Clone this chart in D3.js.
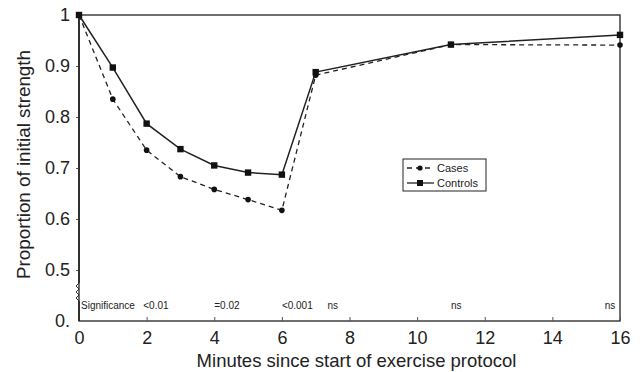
<!DOCTYPE html>
<html>
<head>
<meta charset="utf-8">
<script src="https://cdn.jsdelivr.net/npm/d3@7"></script>
<style>
  body { margin: 0; background: #fff; }
  text { font-family: "Liberation Sans", Arial, sans-serif; fill: #222; }
</style>
</head>
<body>
<svg id="chart" width="642" height="372"></svg>
<script>
// data
const minutes = [0, 1, 2, 3, 4, 5, 6, 7, 11, 16];
const cases = [1, 0.835, 0.735, 0.683, 0.658, 0.638, 0.617, 0.882, 0.942, 0.941];
const controls = [1, 0.897, 0.787, 0.737, 0.705, 0.691, 0.687, 0.888, 0.942, 0.961];
const xTicks = [0, 2, 4, 6, 8, 10, 12, 14, 16];
const yTicks = [0.5, 0.6, 0.7, 0.8, 0.9, 1];
const sigLabels = ['<0.01', '=0.02', '<0.001', 'ns', 'ns', 'ns'];
const sigAt = [1.9, 4, 6, 7.35, 11, 15.55];

const svg = d3.select('#chart');
const margin = { left: 79, right: 22, top: 15, bottom: 51 };
const width = 642 - margin.left - margin.right;
const height = 372 - margin.top - margin.bottom;

// the axis is broken below 0.5; the bottom edge stands for "0."
const x = d3.scaleLinear().domain([0, 16]).range([0, width]);
const y = d3.scaleLinear().domain([0.4, 1]).range([height, 0]);

const g = svg.append('g').attr('transform', `translate(${margin.left},${margin.top})`);

// frame
g.append('rect')
  .attr('width', width).attr('height', height)
  .attr('fill', 'none').attr('stroke', '#222').attr('stroke-width', 1.3);

// x axis
const xAxis = g.append('g').attr('transform', `translate(0,${height})`)
  .call(d3.axisBottom(x).tickValues(xTicks).tickSize(-4).tickPadding(8));
xAxis.select('.domain').remove();
xAxis.selectAll('line').attr('stroke', '#555');
xAxis.selectAll('text').style('font-size', '18px').attr('dy', '0.72em').attr('y', 10);

// y axis
const yAxis = g.append('g')
  .call(d3.axisLeft(y).tickValues(yTicks).tickSize(3).tickPadding(6)
    .tickFormat(d => d === 1 ? '1' : d3.format('.1f')(d)));
yAxis.select('.domain').remove();
yAxis.selectAll('line').attr('stroke', '#555');
yAxis.selectAll('text').style('font-size', '18px');
g.append('text')
  .attr('x', -9).attr('y', y(0.4)).attr('dy', '0.32em')
  .attr('text-anchor', 'end').style('font-size', '18px').text('0.');

// left axis line with the break
const yb1 = y(0.5) + 13, yb2 = y(0.5) + 31;
g.append('line').attr('x1', 0).attr('x2', 0).attr('y1', 0).attr('y2', yb1)
  .attr('stroke', '#222').attr('stroke-width', 1.6);
g.append('line').attr('x1', 0).attr('x2', 0).attr('y1', yb2).attr('y2', height)
  .attr('stroke', '#222').attr('stroke-width', 1.6);
const zig = d3.range(0, 7).map(i => [i % 2 === 0 ? 0 : -3, yb1 + i * (yb2 - yb1) / 6]);
g.append('path').attr('d', d3.line()(zig))
  .attr('fill', 'none').attr('stroke', '#222').attr('stroke-width', 0.9);

// axis titles
svg.append('text')
  .attr('x', margin.left + width / 2 + 7).attr('y', 367)
  .attr('text-anchor', 'middle').style('font-size', '18.5px')
  .text('Minutes since start of exercise protocol');
svg.append('text')
  .attr('transform', 'translate(30,164.5) rotate(-90)')
  .attr('text-anchor', 'middle').style('font-size', '18.5px')
  .attr('textLength', 229).attr('lengthAdjust', 'spacingAndGlyphs')
  .text('Proportion of initial strength');

// significance row
const sigY = height - 12;
g.append('text').attr('x', 2).attr('y', sigY).style('font-size', '10px').text('Significance');
g.selectAll('.sig')
  .data(sigLabels)
  .enter()
  .append('text')
  .attr('class', 'sig')
  .attr('x', (d, i) => x(sigAt[i]))
  .attr('y', sigY)
  .style('font-size', '10px')
  .text(d => d);

// lines
const line = (vals) => d3.line()
  .x((d, i) => x(minutes[i]))
  .y(d => y(d))(vals);

g.append('path').attr('d', line(cases))
  .attr('fill', 'none').attr('stroke', '#222').attr('stroke-width', 1.3)
  .attr('stroke-dasharray', '5,4');
g.append('path').attr('d', line(controls))
  .attr('fill', 'none').attr('stroke', '#222').attr('stroke-width', 1.5);

g.selectAll('.case-pt')
  .data(cases)
  .enter()
  .append('circle')
  .attr('cx', (d, i) => x(minutes[i]))
  .attr('cy', d => y(d))
  .attr('r', 2.8)
  .attr('fill', '#111');

g.selectAll('.ctrl-pt')
  .data(controls)
  .enter()
  .append('rect')
  .attr('x', (d, i) => x(minutes[i]) - 3.2)
  .attr('y', d => y(d) - 3.2)
  .attr('width', 6.4).attr('height', 6.4)
  .attr('fill', '#111');

// legend
const leg = svg.append('g').attr('transform', 'translate(403,159)');
leg.append('rect').attr('width', 83).attr('height', 32)
  .attr('fill', '#fff').attr('stroke', '#222').attr('stroke-width', 1);
leg.append('line').attr('x1', 4).attr('x2', 31).attr('y1', 9).attr('y2', 9)
  .attr('stroke', '#222').attr('stroke-width', 1.3).attr('stroke-dasharray', '5,4');
leg.append('circle').attr('cx', 17).attr('cy', 9).attr('r', 2.6).attr('fill', '#111');
leg.append('text').attr('x', 34).attr('y', 9).attr('dy', '0.35em').style('font-size', '11px').text('Cases');
leg.append('line').attr('x1', 4).attr('x2', 31).attr('y1', 24).attr('y2', 24)
  .attr('stroke', '#222').attr('stroke-width', 1.3);
leg.append('rect').attr('x', 14).attr('y', 21).attr('width', 6).attr('height', 6).attr('fill', '#111');
leg.append('text').attr('x', 34).attr('y', 24).attr('dy', '0.35em').style('font-size', '11px').text('Controls');
</script>
</body>
</html>
